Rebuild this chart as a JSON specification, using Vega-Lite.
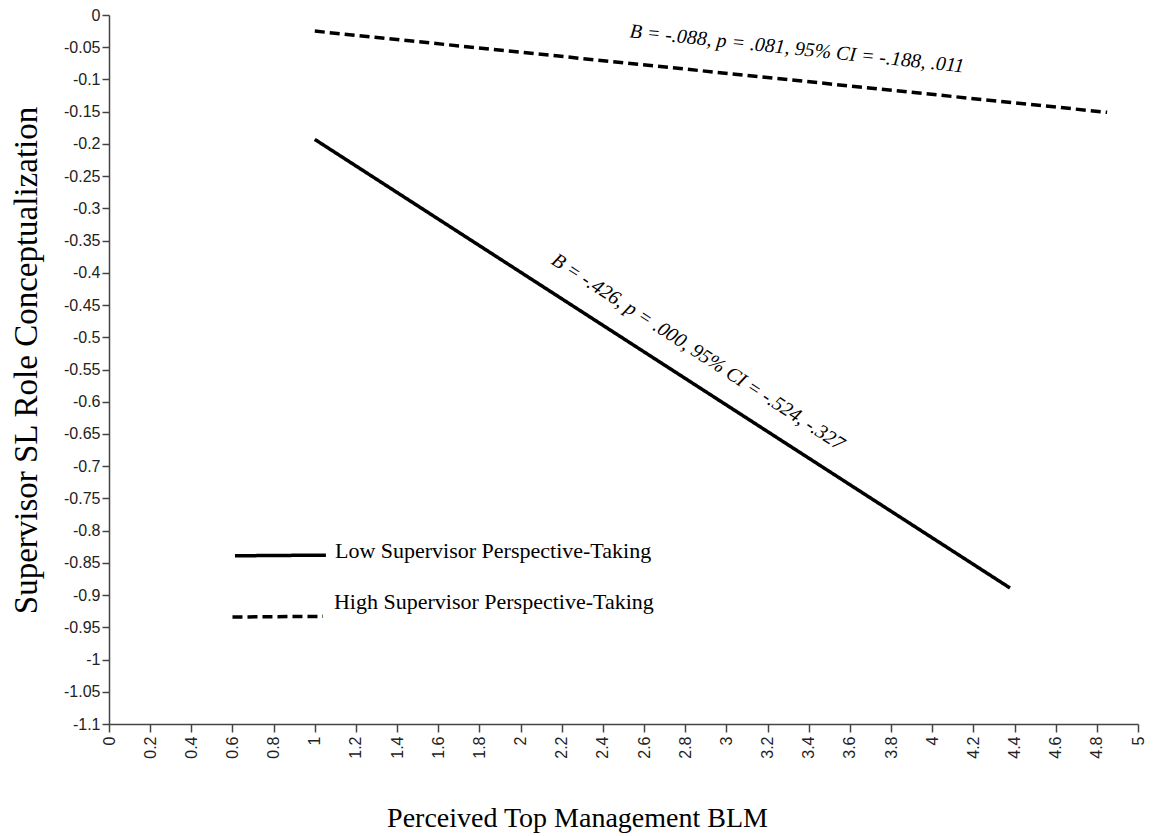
{
  "$schema": "https://vega.github.io/schema/vega-lite/v6.json",
  "autosize": {"type": "none"},
  "width": 1029,
  "height": 709,
  "padding": {"left": 109, "top": 15, "right": 16, "bottom": 112},
  "background": "white",
  "config": {"view": {"stroke": null}},
  "datasets": {
    "lines": [
      {"series": "Low", "style": "solid", "x": 1, "y": -0.193},
      {"series": "Low", "style": "solid", "x": 4.378, "y": -0.889},
      {"series": "High", "style": "dashed", "x": 1, "y": -0.025},
      {"series": "High", "style": "dashed", "x": 4.85, "y": -0.151},
      {"series": "LegendLow", "style": "solid", "x": 0.612, "y": -0.839},
      {"series": "LegendLow", "style": "solid", "x": 1.054, "y": -0.838},
      {"series": "LegendHigh", "style": "dashed", "x": 0.6, "y": -0.934},
      {"series": "LegendHigh", "style": "dashed", "x": 1.04, "y": -0.933}
    ],
    "legendLabels": [
      {"label": "Low Supervisor Perspective-Taking", "x": 1.098, "y": -0.831},
      {"label": "High  Supervisor Perspective-Taking", "x": 1.093, "y": -0.91}
    ],
    "noteHigh": [
      {"label": "B = -.088, p = .081, 95% CI = -.188, .011", "x": 3.343, "y": -0.0526}
    ],
    "noteLow": [
      {"label": "B = -.426, p = .000, 95% CI = -.524, -.327", "x": 2.862, "y": -0.523}
    ]
  },
  "layer": [
    {
      "data": {"name": "lines"},
      "mark": {"type": "line", "color": "black", "strokeWidth": 3.5, "strokeCap": "butt"},
      "encoding": {
        "x": {
          "field": "x", "type": "quantitative",
          "scale": {"domain": [0, 5], "nice": false, "zero": false},
          "axis": {
            "title": "Perceived Top Management BLM",
            "values": [0,0.2,0.4,0.6,0.8,1,1.2,1.4,1.6,1.8,2,2.2,2.4,2.6,2.8,3,3.2,3.4,3.6,3.8,4,4.2,4.4,4.6,4.8,5],
            "tickCount": 100,
            "labelExpr": "format(datum.value, '.1~f')",
            "labelAngle": -90,
            "labelAlign": "right",
            "labelBaseline": "middle",
            "labelFont": "Liberation Sans",
            "labelFontSize": 16,
            "labelColor": "#222222",
            "labelPadding": 4,
            "labelFlush": false,
            "labelOverlap": false,
            "tickSize": 8,
            "tickColor": "#444444",
            "tickWidth": 1.5,
            "domainColor": "#444444",
            "domainWidth": 1.5,
            "grid": false,
            "titleFont": "Liberation Serif",
            "titleFontSize": 28,
            "titleFontWeight": "normal",
            "titleColor": "black",
            "titleBaseline": "alphabetic",
            "titleY": 102,
            "titleX": 468,
            "titleAnchor": "middle"
          }
        },
        "y": {
          "field": "y", "type": "quantitative",
          "scale": {"domain": [-1.1, 0], "nice": false, "zero": false},
          "axis": {
            "title": "Supervisor SL Role Conceptualization",
            "values": [0,-0.05,-0.1,-0.15,-0.2,-0.25,-0.3,-0.35,-0.4,-0.45,-0.5,-0.55,-0.6,-0.65,-0.7,-0.75,-0.8,-0.85,-0.9,-0.95,-1,-1.05,-1.1],
            "tickCount": 100,
            "labelExpr": "datum.value === 0 ? '0' : replace(format(datum.value, '.2~f'), '−', '-')",
            "labelFont": "Liberation Sans",
            "labelFontSize": 16,
            "labelColor": "#222222",
            "labelPadding": 2,
            "labelFlush": false,
            "labelOverlap": false,
            "tickSize": 7,
            "tickColor": "#444444",
            "tickWidth": 1.5,
            "domainColor": "#444444",
            "domainWidth": 1.5,
            "grid": false,
            "titleFont": "Liberation Serif",
            "titleFontSize": 33,
            "titleFontWeight": "normal",
            "titleColor": "black",
            "titleAngle": -90,
            "titleBaseline": "alphabetic",
            "titleX": -73,
            "titleY": 345,
            "titleAnchor": "middle"
          }
        },
        "detail": {"field": "series", "type": "nominal"},
        "strokeDash": {
          "field": "style", "type": "nominal",
          "scale": {"domain": ["solid", "dashed"], "range": [[1, 0], [10, 5]]},
          "legend": null
        }
      }
    },
    {
      "data": {"name": "legendLabels"},
      "mark": {"type": "text", "font": "Liberation Serif", "fontSize": 22, "align": "left", "baseline": "middle", "color": "black"},
      "encoding": {
        "x": {"field": "x", "type": "quantitative"},
        "y": {"field": "y", "type": "quantitative"},
        "text": {"field": "label", "type": "nominal"}
      }
    },
    {
      "data": {"name": "noteHigh"},
      "mark": {"type": "text", "font": "Liberation Serif", "fontStyle": "italic", "fontSize": 20, "align": "center", "baseline": "middle", "angle": 6, "color": "black"},
      "encoding": {
        "x": {"field": "x", "type": "quantitative"},
        "y": {"field": "y", "type": "quantitative"},
        "text": {"field": "label", "type": "nominal"}
      }
    },
    {
      "data": {"name": "noteLow"},
      "mark": {"type": "text", "font": "Liberation Serif", "fontStyle": "italic", "fontSize": 20, "align": "center", "baseline": "middle", "angle": 33, "color": "black"},
      "encoding": {
        "x": {"field": "x", "type": "quantitative"},
        "y": {"field": "y", "type": "quantitative"},
        "text": {"field": "label", "type": "nominal"}
      }
    }
  ]
}
